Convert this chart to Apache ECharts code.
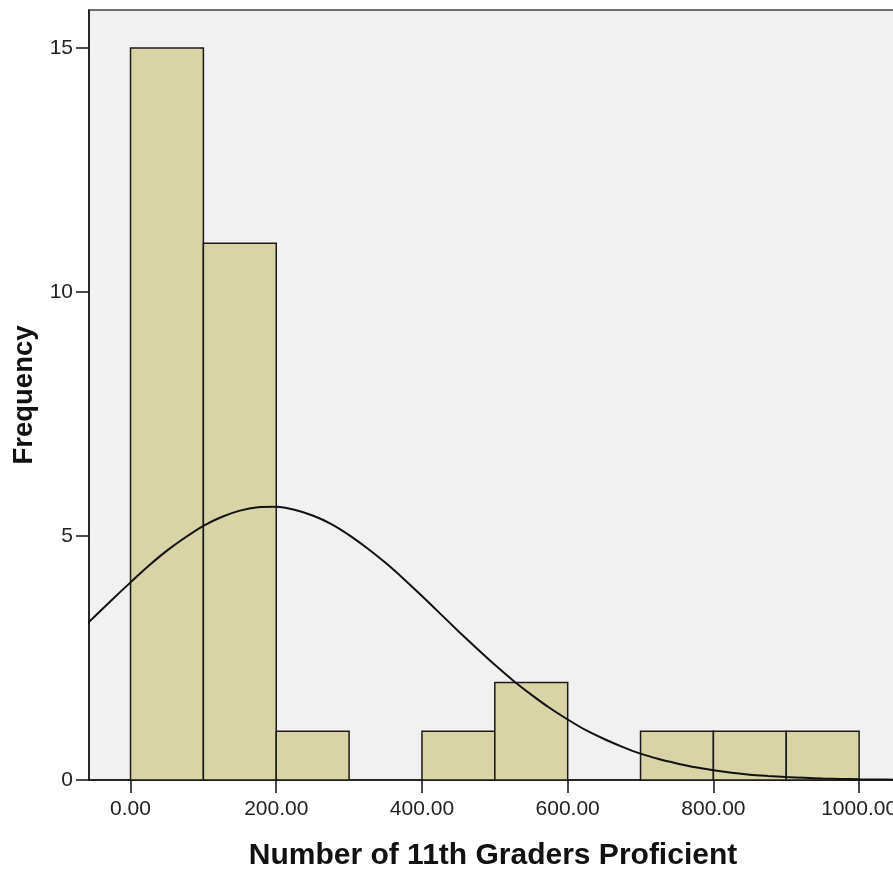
<!DOCTYPE html>
<html>
<head>
<meta charset="utf-8">
<script src="https://cdn.jsdelivr.net/npm/echarts@6/dist/echarts.min.js"></script>
<style>
  html, body { margin: 0; padding: 0; background: #fff; }
  #main { width: 893px; height: 869px; }
</style>
</head>
<body>
<div id="main"></div>
<script>
// histogram bins (lower edge, upper edge) and counts
var binStart = [0, 100, 200, 300, 400, 500, 600, 700, 800, 900];
var binEnd = [100, 200, 300, 400, 500, 600, 700, 800, 900, 1000];
var counts = [15, 11, 1, 0, 1, 2, 0, 1, 1, 1];

// normal curve, every 25 units
var curveX = [-75, -50, -25, 0, 25, 50, 75, 100, 125, 150, 175, 200, 225, 250, 275, 300, 325, 350, 375, 400,
    425, 450, 475, 500, 525, 550, 575, 600, 625, 650, 675, 700, 725, 750, 775, 800, 825, 850, 875, 900,
    925, 950, 975, 1000, 1025, 1050];
var curveY = [2.98, 3.34, 3.7, 4.05, 4.39, 4.7, 4.97, 5.21, 5.39, 5.52, 5.59, 5.6, 5.54, 5.42, 5.25, 5.02, 4.75, 4.45, 4.12, 3.77,
    3.41, 3.05, 2.7, 2.36, 2.04, 1.75, 1.48, 1.24, 1.02, 0.84, 0.68, 0.54, 0.43, 0.34, 0.26, 0.2, 0.15, 0.11, 0.083, 0.06,
    0.044, 0.03, 0.022, 0.015, 0.01, 0.007];

var xTicks = [0, 200, 400, 600, 800, 1000];
var yTicks = [0, 5, 10, 15];

var myChart = echarts.init(document.getElementById('main'));

var barData = binStart.map(function (s, i) { return [s, binEnd[i], counts[i]]; });
var curveData = curveX.map(function (x, i) { return [x, curveY[i]]; });

var option = {
    animation: false,
    backgroundColor: '#ffffff',
    grid: {
        left: 89,
        top: 10,
        width: 808,
        height: 770,
        outerBoundsMode: 'none',
        containLabel: false,
        show: true,
        backgroundColor: '#f1f1f1',
        borderColor: '#444',
        borderWidth: 1.5
    },
    xAxis: {
        type: 'value',
        min: -57,
        max: 1052,
        name: 'Number of 11th Graders Proficient',
        nameLocation: 'middle',
        nameGap: 61,
        nameTextStyle: { fontFamily: 'Liberation Sans', fontWeight: 'bold', fontSize: 30, color: '#111' },
        axisLine: { onZero: false, lineStyle: { color: '#111', width: 1.5 } },
        axisTick: { show: true, length: 13, customValues: xTicks, lineStyle: { color: '#111', width: 1.5 } },
        axisLabel: {
            customValues: xTicks,
            margin: 19,
            fontFamily: 'Liberation Sans',
            fontSize: 21,
            color: '#222',
            formatter: function (v) { return v.toFixed(2); }
        },
        splitLine: { show: false }
    },
    yAxis: {
        type: 'value',
        min: 0,
        max: 15.78,
        name: 'Frequency',
        nameLocation: 'middle',
        nameGap: 49,
        nameTextStyle: { fontFamily: 'Liberation Sans', fontWeight: 'bold', fontSize: 27.5, color: '#111' },
        axisLine: { show: true, onZero: false, lineStyle: { color: '#111', width: 1.5 } },
        axisTick: { show: true, length: 13, customValues: yTicks, lineStyle: { color: '#111', width: 1.5 } },
        axisLabel: {
            customValues: yTicks,
            margin: 16,
            fontFamily: 'Liberation Sans',
            fontSize: 21,
            color: '#222'
        },
        splitLine: { show: false }
    },
    series: [
        {
            type: 'custom',
            data: barData,
            encode: { x: [0, 1], y: 2 },
            renderItem: function (params, api) {
                var h = api.value(2);
                if (!h) return null;
                var p0 = api.coord([api.value(0), h]);
                var p1 = api.coord([api.value(1), 0]);
                return {
                    type: 'rect',
                    shape: { x: p0[0], y: p0[1], width: p1[0] - p0[0], height: p1[1] - p0[1] },
                    style: { fill: '#d8d4a5', stroke: '#1a1a1a', lineWidth: 1.5 }
                };
            },
            z: 2
        },
        {
            type: 'line',
            data: curveData,
            smooth: 0.3,
            showSymbol: false,
            clip: true,
            lineStyle: { color: '#111', width: 2 },
            z: 3
        }
    ]
};

option && myChart.setOption(option);
</script>
</body>
</html>
